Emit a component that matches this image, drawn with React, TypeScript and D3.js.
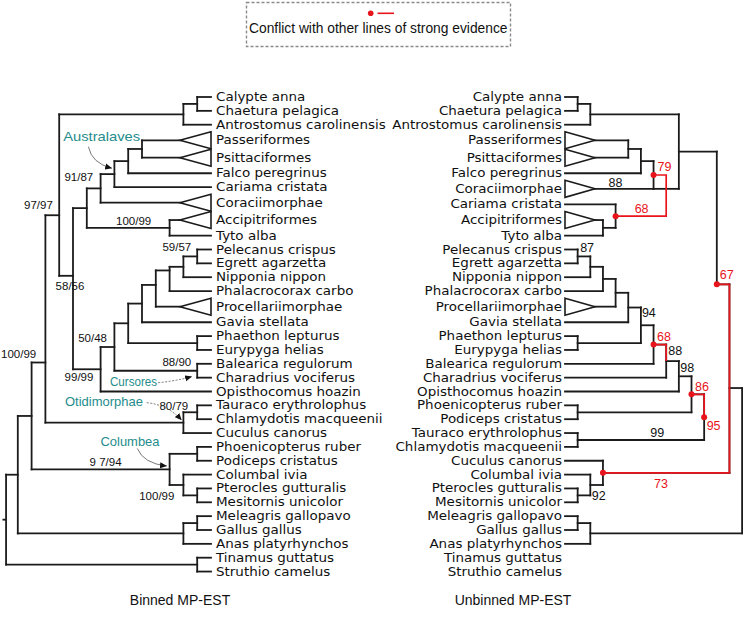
import React from "react";
import * as d3 from "d3";

// ---------------- DATA ----------------
const LEFT_LEAVES = [
  "Calypte anna", "Chaetura pelagica", "Antrostomus carolinensis", "Passeriformes", "Psittaciformes",
  "Falco peregrinus", "Cariama cristata", "Coraciimorphae", "Accipitriformes", "Tyto alba",
  "Pelecanus crispus", "Egrett agarzetta", "Nipponia nippon", "Phalacrocorax carbo", "Procellariimorphae",
  "Gavia stellata", "Phaethon lepturus", "Eurypyga helias", "Balearica regulorum", "Charadrius vociferus",
  "Opisthocomus hoazin", "Tauraco erythrolophus", "Chlamydotis macqueenii", "Cuculus canorus",
  "Phoenicopterus ruber", "Podiceps cristatus", "Columbal ivia", "Pterocles gutturalis", "Mesitornis unicolor",
  "Meleagris gallopavo", "Gallus gallus", "Anas platyrhynchos", "Tinamus guttatus", "Struthio camelus",
];

const RIGHT_LEAVES = [
  "Calypte anna", "Chaetura pelagica", "Antrostomus carolinensis", "Passeriformes", "Psittaciformes",
  "Falco peregrinus", "Coraciimorphae", "Cariama cristata", "Accipitriformes", "Tyto alba",
  "Pelecanus crispus", "Egrett agarzetta", "Nipponia nippon", "Phalacrocorax carbo", "Procellariimorphae",
  "Gavia stellata", "Phaethon lepturus", "Eurypyga helias", "Balearica regulorum", "Charadrius vociferus",
  "Opisthocomus hoazin", "Phoenicopterus ruber", "Podiceps cristatus", "Tauraco erythrolophus",
  "Chlamydotis macqueenii", "Cuculus canorus", "Columbal ivia", "Pterocles gutturalis", "Mesitornis unicolor",
  "Meleagris gallopavo", "Gallus gallus", "Anas platyrhynchos", "Tinamus guttatus", "Struthio camelus",
];

// collapsed clades drawn as triangles
const COLLAPSED = ["Passeriformes", "Psittaciformes", "Coraciimorphae", "Accipitriformes", "Procellariimorphae"];

type NodeDef = { id: string; col: number; kids: string[]; at?: number; red?: boolean; hidden?: string[] };

// Binned MP-EST tree (col = depth column, root on the left)
const LEFT_NODES: NodeDef[] = [
  { id: "@sw1", col: 14, kids: ["Calypte anna", "Chaetura pelagica"] },
  { id: "@sw2", col: 13, kids: ["@sw1", "Antrostomus carolinensis"] },
  { id: "@pp", col: 10, kids: ["Passeriformes", "Psittaciformes"] },
  { id: "@ppf", col: 9, kids: ["@pp", "Falco peregrinus"] },
  { id: "@ppfc", col: 8, kids: ["@ppf", "Cariama cristata"] },
  { id: "@aus", col: 7, kids: ["@ppfc", "Coraciimorphae"] },
  { id: "@at", col: 12, kids: ["Accipitriformes", "Tyto alba"] },
  { id: "@n9187", col: 6, kids: ["@aus", "@at"] },
  { id: "@pe", col: 14, kids: ["Pelecanus crispus", "Egrett agarzetta"] },
  { id: "@pen", col: 13, kids: ["@pe", "Nipponia nippon"] },
  { id: "@penp", col: 12, kids: ["@pen", "Phalacrocorax carbo"], at: 0.15 },
  { id: "@proc", col: 11, kids: ["@penp", "Procellariimorphae"], at: 0.4 },
  { id: "@gav", col: 10, kids: ["@proc", "Gavia stellata"] },
  { id: "@pe2", col: 14, kids: ["Phaethon lepturus", "Eurypyga helias"] },
  { id: "@ge", col: 9, kids: ["@gav", "@pe2"] },
  { id: "@bc", col: 14, kids: ["Balearica regulorum", "Charadrius vociferus"] },
  { id: "@n5048", col: 8, kids: ["@ge", "@bc"] },
  { id: "@n9999", col: 7, kids: ["@n5048", "Opisthocomus hoazin"] },
  { id: "@n5856", col: 5, kids: ["@n9187", "@n9999"], at: 0.42 },
  { id: "@inner", col: 4, kids: ["@sw2", "@n5856"], at: 0.625 },
  { id: "@tc", col: 14, kids: ["Tauraco erythrolophus", "Chlamydotis macqueenii"] },
  { id: "@oti", col: 13, kids: ["@tc", "Cuculus canorus"] },
  { id: "@n9797", col: 3, kids: ["@inner", "@oti"], at: 0.71 },
  { id: "@pp2", col: 14, kids: ["Phoenicopterus ruber", "Podiceps cristatus"] },
  { id: "@pm", col: 14, kids: ["Pterocles gutturalis", "Mesitornis unicolor"] },
  { id: "@cpm", col: 13, kids: ["Columbal ivia", "@pm"] },
  { id: "@colb", col: 12, kids: ["@pp2", "@cpm"] },
  { id: "@neoaves", col: 2, kids: ["@n9797", "@colb"] },
  { id: "@mg", col: 14, kids: ["Meleagris gallopavo", "Gallus gallus"] },
  { id: "@gallo", col: 13, kids: ["@mg", "Anas platyrhynchos"] },
  { id: "@neog", col: 1, kids: ["@neoaves", "@gallo"] },
  { id: "@pal", col: 14, kids: ["Tinamus guttatus", "Struthio camelus"] },
  { id: "@root", col: 0.15, kids: ["@neog", "@pal"] },
];

// Unbinned MP-EST tree (col = depth column, root on the right)
const RIGHT_NODES: NodeDef[] = [
  { id: "@cc", col: 1, kids: ["Calypte anna", "Chaetura pelagica"] },
  { id: "@sw", col: 2, kids: ["@cc", "Antrostomus carolinensis"] },
  { id: "@pp", col: 5, kids: ["Passeriformes", "Psittaciformes"] },
  { id: "@ppf", col: 6, kids: ["@pp", "Falco peregrinus"] },
  { id: "@ppfc", col: 7, kids: ["@ppf", "Coraciimorphae"], at: 1 },
  { id: "@land", col: 9, kids: ["@sw", "@ppfc"] },
  { id: "@at", col: 3, kids: ["Accipitriformes", "Tyto alba"] },
  { id: "@ca", col: 4, kids: ["Cariama cristata", "@at"] },
  { id: "@pe", col: 1, kids: ["Pelecanus crispus", "Egrett agarzetta"] },
  { id: "@pen", col: 2, kids: ["@pe", "Nipponia nippon"] },
  { id: "@penp", col: 3, kids: ["@pen", "Phalacrocorax carbo"] },
  { id: "@proc", col: 4, kids: ["@penp", "Procellariimorphae"] },
  { id: "@gav", col: 5, kids: ["@proc", "Gavia stellata"] },
  { id: "@pe2", col: 1, kids: ["Phaethon lepturus", "Eurypyga helias"] },
  { id: "@n94", col: 6, kids: ["@gav", "@pe2"] },
  { id: "@n68", col: 7, kids: ["@n94", "Balearica regulorum"], red: true },
  { id: "@n88", col: 8, kids: ["@n68", "Charadrius vociferus"] },
  { id: "@n98", col: 9, kids: ["@n88", "Opisthocomus hoazin"] },
  { id: "@pp2", col: 1, kids: ["Phoenicopterus ruber", "Podiceps cristatus"] },
  { id: "@n86", col: 10, kids: ["@n98", "@pp2"], red: true },
  { id: "@tc", col: 1, kids: ["Tauraco erythrolophus", "Chlamydotis macqueenii"] },
  { id: "@n95", col: 11, kids: ["@n86", "@tc"], red: true },
  { id: "@n67", col: 12, kids: ["@land", "@n95"], hidden: ["@n95"], red: true },
  { id: "@pm", col: 1, kids: ["Pterocles gutturalis", "Mesitornis unicolor"] },
  { id: "@n92", col: 2, kids: ["Columbal ivia", "@pm"] },
  { id: "@n73", col: 3, kids: ["Cuculus canorus", "@n92"], red: true },
  { id: "@neo", col: 13, kids: ["@n67", "@n73"], at: 0.55 },
  { id: "@mg", col: 1, kids: ["Meleagris gallopavo", "Gallus gallus"] },
  { id: "@gallo", col: 2, kids: ["@mg", "Anas platyrhynchos"] },
  { id: "@root", col: 14, kids: ["@neo", "@gallo"] },
];

// conflicting grouping drawn in red between two nodes, through a bar at column `col`
const RIGHT_CONFLICTS = [{ a: "@ppfc", b: "@ca", col: 8, la: "79", lb: "68" }];

const LEFT_SUPPORT: [string, string][] = [
  ["@n9797", "97/97"], ["@n9187", "91/87"], ["@at", "100/99"], ["@pe", "59/57"], ["@n5856", "58/56"],
  ["@n9999", "50/48"], ["@neoaves", "100/99"], ["@bc", "88/90"], ["@n9999", "99/99"], ["@tc", "80/79"],
  ["@colb", "9 7/94"], ["@cpm", "100/99"],
];
const RIGHT_SUPPORT: [string, string][] = [
  ["@ppfc", "88"], ["@pe", "87"], ["@n94", "94"], ["@n88", "88"], ["@n98", "98"], ["@n95", "99"], ["@n92", "92"],
];
const RED_SUPPORT: [string, string][] = [
  ["@n68", "68"], ["@n86", "86"], ["@n95", "95"], ["@n67", "67"], ["@n73", "73"],
];
const CLADE_NOTES: [string, string][] = [
  ["@ppfc", "Australaves"], ["@bc", "Cursores"], ["@oti", "Otidimorphae"], ["@colb", "Columbea"],
];
const PANEL_TITLES = ["Binned MP-EST", "Unbinned MP-EST"];
const LEGEND_TEXT = "Conflict with other lines of strong evidence";

// ---------------- PLACEMENT / STYLE ----------------
type Ref = "top" | "bottom" | "entry";
const LEFT_SUPPORT_PLACE: [Ref, number, number, string][] = [
  ["top", -7, -10, "middle"], ["top", -8, -11, "middle"], ["entry", -36, -7, "middle"], ["top", -6, -3, "end"],
  ["entry", -3, 10, "middle"], ["top", -8, -9, "middle"], ["top", -13, -9, "middle"], ["top", -6, -2, "end"],
  ["entry", -21.6, 8, "middle"], ["top", -9, 1, "end"], ["entry", -64, -7, "middle"], ["bottom", -9, 1, "end"],
];
const RIGHT_SUPPORT_PLACE: [Ref, number, number, string][] = [
  ["bottom", -38, -6, "middle"], ["top", 2.5, -2, "start"], ["top", 1, 5.5, "start"], ["top", 2, 6, "start"],
  ["top", 1.5, 7, "start"], ["bottom", -47, -7, "middle"], ["bottom", 1.5, 0, "start"],
];
const RED_PLACE: [number, number, string][] = [
  [3.5, -8, "start"], [3.5, -8, "start"], [2.5, 8, "start"], [3, -10, "start"], [58, 11, "middle"],
];
const CONFLICT_PLACE: [number, number, string][] = [[4, -8, "start"], [26, -8, "middle"]];
const NOTE_PLACE = [
  { label: [-12.7, -37.4], start: [-26, -27.4], ctrl: [-22.7, -10.8], tip: [-2.7, -6], len: 77, dash: "" },
  { label: [-63.7, 11], start: [-39, 12], ctrl: [-22, 10.3], tip: [-5.5, 6], len: 47, dash: "2,1.5" },
  { label: [-79.4, -21], start: [-36.7, -20], ctrl: [-15.4, -17.7], tip: [-2, -2.7], len: 78, dash: "2,1.5" },
  { label: [-39.6, -27.7], start: [-32.3, -21], ctrl: [-26.3, -6], tip: [-3, -3.4], len: 59, dash: "" },
];

const BLACK = "#1b1b1b";
const RED = "#e8141c";
const TEAL = "#258c8c";
const SW = 1.8;
const LABEL_FONT = "'DejaVu Sans', Verdana, sans-serif";
const LABEL_SIZE = 12.6;
const LABEL_STRETCH = 1.07;
const NUM_FONT = "'Liberation Sans', Arial, sans-serif";

// rows
const N_ROWS = LEFT_LEAVES.length;
const ROW_STEP = 13.85;
const TRI_EXTRA = 3.5;
const rowScale = d3.scaleLinear().domain([0, N_ROWS - 1]).range([97, 97 + (N_ROWS - 1) * ROW_STEP]);
const xL = d3.scaleLinear().domain([0, 15]).range([4, 211]);
const xR = d3.scaleLinear().domain([0, 14]).range([565, 742.1]);
const TRI_H = 8.5;

function rowY(leaves: string[]) {
  const ys: Record<string, number> = {};
  let extra = 0;
  leaves.forEach((name, i) => {
    const tri = COLLAPSED.includes(name);
    ys[name] = rowScale(i) + extra + (tri ? TRI_EXTRA / 2 : 0);
    if (tri) extra += TRI_EXTRA;
  });
  return ys;
}

type Pos = { x: number; entry: number; mid: number; top: number; bottom: number };

function layoutTree(nodes: NodeDef[], leafY: Record<string, number>, xs: any, tipCol: number, apexCol: number) {
  const pos: Record<string, Pos> = {};
  const parent: Record<string, string> = {};
  const get = (k: string): Pos => {
    if (k.startsWith("@")) return pos[k];
    const x = xs(COLLAPSED.includes(k) ? apexCol : tipCol);
    const y = leafY[k];
    return { x, entry: y, mid: y, top: y, bottom: y };
  };
  nodes.forEach((n) => {
    const ks = n.kids.map(get);
    const first = ks[0].entry;
    const last = ks[ks.length - 1].entry;
    const mid = (first + last) / 2;
    const entry = n.at != null ? first + n.at * (last - first) : mid;
    const vis = n.kids.filter((k) => !(n.hidden || []).includes(k)).map((k) => get(k).entry);
    vis.push(entry);
    pos[n.id] = { x: xs(n.col), entry, mid, top: d3.min(vis) as number, bottom: d3.max(vis) as number };
    n.kids.forEach((k) => (parent[k] = n.id));
  });
  return { pos, parent, get };
}

function refPoint(p: Pos, ref: Ref) {
  return { x: p.x, y: ref === "top" ? p.top : ref === "bottom" ? p.bottom : p.entry };
}

function TreeLines({ nodes, layout, leaves, tipX, apexX }: any) {
  const els: any[] = [];
  const { pos, get } = layout;
  leaves.forEach((name: string) => {
    if (!COLLAPSED.includes(name)) return;
    const y = get(name).entry;
    els.push(
      <polygon key={"tri" + name} points={`${tipX},${y - TRI_H} ${apexX},${y} ${tipX},${y + TRI_H}`}
        fill="#fff" stroke={BLACK} strokeWidth={1.6} strokeLinejoin="miter" />
    );
  });
  nodes.forEach((n: NodeDef) => {
    const p = pos[n.id];
    els.push(<line key={"v" + n.id} x1={p.x} x2={p.x} y1={p.top} y2={p.bottom} stroke={BLACK} strokeWidth={SW} strokeLinecap="square" />);
    n.kids.forEach((k) => {
      if ((n.hidden || []).includes(k)) return;
      const c = get(k);
      els.push(<line key={"h" + n.id + k} x1={c.x} x2={p.x} y1={c.entry} y2={c.entry} stroke={BLACK} strokeWidth={SW} strokeLinecap="square" />);
    });
  });
  return <g>{els}</g>;
}

function Labels({ leaves, layout, x, anchor }: any) {
  return (
    <g fontFamily={LABEL_FONT} fontSize={LABEL_SIZE} fill="#111"
      transform={`translate(${x},0) scale(${LABEL_STRETCH},1) translate(${-x},0)`}>
      {leaves.map((name: string) => (
        <text key={name} x={x} y={layout.get(name).entry} dy="0.32em" textAnchor={anchor}>{name}</text>
      ))}
    </g>
  );
}

export default function App() {
  const leftY = rowY(LEFT_LEAVES);
  const rightY = rowY(RIGHT_LEAVES);
  const L = layoutTree(LEFT_NODES, leftY, xL, 15, 12.75);
  const R = layoutTree(RIGHT_NODES, rightY, xR, 0, 2.37);

  const root = L.pos["@root"];

  const redEls: any[] = [];
  RIGHT_NODES.forEach((n) => {
    if (!n.red) return;
    const p = R.pos[n.id];
    const parId = R.parent[n.id];
    const par = parId ? RIGHT_NODES.find((m) => m.id === parId) : null;
    if (par && !(par.hidden || []).includes(n.id)) {
      const pp = R.pos[parId];
      redEls.push(<path key={"rp" + n.id} d={`M${p.x},${p.entry}H${pp.x}V${pp.entry}`} fill="none" stroke={RED} strokeWidth={1.7} />);
    }
  });
  RIGHT_CONFLICTS.forEach((c, i) => {
    const a = R.pos[c.a];
    const b = R.pos[c.b];
    const xc = xR(c.col);
    redEls.push(<path key={"cf" + i} d={`M${a.x},${a.mid}H${xc}V${b.mid}H${b.x}`} fill="none" stroke={RED} strokeWidth={1.7} />);
  });
  const dots: any[] = [];
  RIGHT_NODES.forEach((n) => {
    if (!n.red) return;
    const p = R.pos[n.id];
    dots.push(<circle key={"d" + n.id} cx={p.x} cy={p.entry} r={3} fill={RED} />);
  });
  RIGHT_CONFLICTS.forEach((c, i) => {
    const a = R.pos[c.a];
    const b = R.pos[c.b];
    dots.push(<circle key={"cda" + i} cx={a.x} cy={a.mid} r={3} fill={RED} />);
    dots.push(<circle key={"cdb" + i} cx={b.x} cy={b.mid} r={3} fill={RED} />);
  });

  return (
    <svg width={745} height={627} style={{ position: "absolute", left: 0, top: 0, background: "#fff" }}>
      <defs>
        <marker id="arr" viewBox="0 0 8 8" refX="7.5" refY="4" markerWidth="7" markerHeight="7" markerUnits="userSpaceOnUse" orient="auto">
          <path d="M0,0.5 L8,4 L0,7.5 z" fill="#111" />
        </marker>
      </defs>

      {/* legend */}
      <rect x={246.5} y={2.5} width={264} height={44} fill="none" stroke="#8a8a8a" strokeWidth={1.4} strokeDasharray="3,2" />
      <circle cx={370.7} cy={13.3} r={2.8} fill={RED} />
      <line x1={377.5} x2={394} y1={13.3} y2={13.3} stroke={RED} strokeWidth={1.6} />
      <text x={378.3} y={28.3} dy="0.35em" textAnchor="middle" fontFamily={NUM_FONT} fontSize={13.8} fill="#111">{LEGEND_TEXT}</text>

      {/* left tree */}
      <TreeLines nodes={LEFT_NODES} layout={L} leaves={LEFT_LEAVES} tipX={xL(15)} apexX={xL(12.75)} />
      <line x1={2.5} x2={root.x} y1={root.entry} y2={root.entry} stroke={BLACK} strokeWidth={SW} />
      <Labels leaves={LEFT_LEAVES} layout={L} x={216} anchor="start" />
      <g fontFamily={NUM_FONT} fontSize={11.5} fill="#111">
        {LEFT_SUPPORT.map(([id, t], i) => {
          const [ref, dx, dy, anc] = LEFT_SUPPORT_PLACE[i];
          const r = refPoint(L.pos[id], ref);
          return <text key={"ls" + i} x={r.x + dx} y={r.y + dy} dy="0.35em" textAnchor={anc}>{t}</text>;
        })}
      </g>
      <g>
        {CLADE_NOTES.map(([id, t], i) => {
          const p = L.pos[id];
          const pl = NOTE_PLACE[i];
          const ax = p.x, ay = p.entry;
          return (
            <g key={"note" + i}>
              <text x={ax + pl.label[0]} y={ay + pl.label[1]} dy="0.35em" textAnchor="middle" fontFamily={NUM_FONT}
                fontSize={13.5} fill={TEAL} textLength={pl.len} lengthAdjust="spacingAndGlyphs">{t}</text>
              <path d={`M${ax + pl.start[0]},${ay + pl.start[1]} Q${ax + pl.ctrl[0]},${ay + pl.ctrl[1]} ${ax + pl.tip[0]},${ay + pl.tip[1]}`}
                fill="none" stroke="#555" strokeWidth={0.8} strokeDasharray={pl.dash || undefined} markerEnd="url(#arr)" />
            </g>
          );
        })}
      </g>

      {/* right tree */}
      <TreeLines nodes={RIGHT_NODES} layout={R} leaves={RIGHT_LEAVES} tipX={xR(0)} apexX={xR(2.37)} />
      <Labels leaves={RIGHT_LEAVES} layout={R} x={562} anchor="end" />
      <g>{redEls}</g>
      <g>{dots}</g>
      <g fontFamily={NUM_FONT} fontSize={12.5} fill="#111">
        {RIGHT_SUPPORT.map(([id, t], i) => {
          const [ref, dx, dy, anc] = RIGHT_SUPPORT_PLACE[i];
          const r = refPoint(R.pos[id], ref);
          return <text key={"rs" + i} x={r.x + dx} y={r.y + dy} dy="0.35em" textAnchor={anc}>{t}</text>;
        })}
      </g>
      <g fontFamily={NUM_FONT} fontSize={12.5} fill={RED}>
        {RED_SUPPORT.map(([id, t], i) => {
          const [dx, dy, anc] = RED_PLACE[i];
          const p = R.pos[id];
          return <text key={"red" + i} x={p.x + dx} y={p.entry + dy} dy="0.35em" textAnchor={anc}>{t}</text>;
        })}
        {RIGHT_CONFLICTS.map((c, i) => {
          const a = R.pos[c.a];
          const b = R.pos[c.b];
          return (
            <g key={"cl" + i}>
              <text x={a.x + CONFLICT_PLACE[0][0]} y={a.mid + CONFLICT_PLACE[0][1]} dy="0.35em" textAnchor={CONFLICT_PLACE[0][2]}>{c.la}</text>
              <text x={b.x + CONFLICT_PLACE[1][0]} y={b.mid + CONFLICT_PLACE[1][1]} dy="0.35em" textAnchor={CONFLICT_PLACE[1][2]}>{c.lb}</text>
            </g>
          );
        })}
      </g>

      {/* panel titles */}
      <g fontFamily={NUM_FONT} fontSize={14} fill="#111" textAnchor="middle">
        <text x={180} y={600} dy="0.35em">{PANEL_TITLES[0]}</text>
        <text x={513} y={600} dy="0.35em">{PANEL_TITLES[1]}</text>
      </g>
    </svg>
  );
}
